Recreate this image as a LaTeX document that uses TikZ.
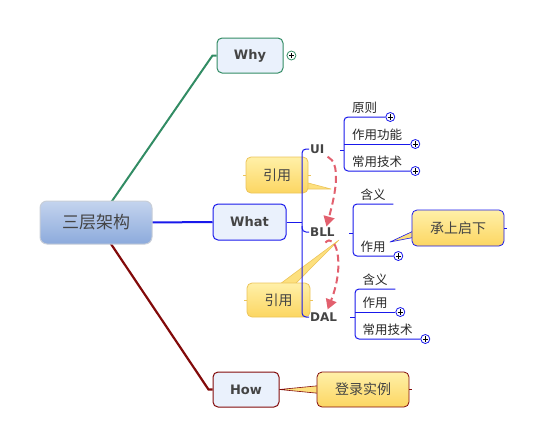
\documentclass[tikz,border=0pt]{standalone}
\usepackage{fontspec}
\newfontfamily\cjk{Noto Sans CJK SC}
\newfontfamily\lat{DejaVu Sans}
\usetikzlibrary{arrows.meta,calc}
\definecolor{bl}{RGB}{25,25,235}
\definecolor{gr}{RGB}{50,140,100}
\definecolor{dr}{RGB}{130,10,10}
\definecolor{tfill}{RGB}{234,241,252}
\definecolor{ytop}{RGB}{255,240,168}
\definecolor{ybot}{RGB}{252,214,98}
\definecolor{yline}{RGB}{236,196,90}
\definecolor{ctop}{RGB}{196,212,238}
\definecolor{cbot}{RGB}{140,170,220}
\definecolor{cline}{RGB}{200,206,216}
\definecolor{txt}{RGB}{68,68,68}
\definecolor{refred}{RGB}{226,96,110}
\pgfdeclarelayer{back}
\pgfsetlayers{back,main}
\tikzset{
 topic/.style={draw=#1, line width=1pt, fill=tfill, rounded corners=5pt, font=\lat\bfseries\fontsize{13}{15}\selectfont, text=txt, minimum width=66, minimum height=35, inner sep=0},
 callout/.style={draw=#1, line width=0.8pt, top color=ytop, bottom color=ybot, rounded corners=5pt, font=\cjk\fontsize{14}{16}\selectfont, text=txt, inner sep=0},
 wedgeshape/.style={draw=#1, line width=0.6pt, fill=ybot!60!ytop, line join=round},
 lay/.style={font=\lat\bfseries\fontsize{12}{14}\selectfont, text=txt, inner sep=1pt, anchor=west},
 item/.style={anchor=south west, inner xsep=8pt, inner ysep=3.2pt, font=\cjk\fontsize{12.5}{14}\selectfont, text=black!85},
 plus/.style={circle, draw=#1, fill=white, line width=0.8pt, inner sep=0, minimum size=9pt, anchor=west,
   path picture={\draw[black,line width=0.8pt] ([xshift=-2.6pt]path picture bounding box.center) -- ([xshift=2.6pt]path picture bounding box.center) ([yshift=-2.6pt]path picture bounding box.center) -- ([yshift=2.6pt]path picture bounding box.center);}},
 brk/.style={draw=bl, line width=1pt, rounded corners=4pt},
 thin/.style={draw=#1, line width=1pt},
 refarrow/.style={draw=refred, line width=2pt, dash pattern=on 7pt off 4pt, -{Triangle[width=11pt,length=10pt]}},
}
\begin{document}
\begin{tikzpicture}[x=1pt,y=-1pt]
\useasboundingbox (0,0) rectangle (544,445);

% topics
\node[topic=gr] (why) at (250,55.5) {Why};
\node[topic=bl, minimum width=73, minimum height=36] (what) at (249.5,222) {What};
\node[topic=dr] (how) at (246,389.5) {How};

% callouts
\node[callout=yline, minimum width=62, minimum height=36] (y1) at (277,175) {引用};
\node[callout=yline, minimum width=63, minimum height=34] (y2) at (278.5,300) {引用};
\node[callout=bl, minimum width=92, minimum height=36] (cs) at (458,228) {承上启下};
\node[callout=dr, minimum width=92, minimum height=35] (dl) at (363,389.5) {登录实例};

% layer labels
\node[lay] (ui) at (309,149) {UI};
\node[lay] (bll) at (309,232) {BLL};
\node[lay] (dal) at (309,317) {DAL};

% sub items
\node[item] (u1) at (344,117) {原则};
\node[item] (u2) at (344,144) {作用功能};
\node[item] (u3) at (344,171) {常用技术};
\node[item, inner xsep=7.5pt] (b1) at (353,204) {含义};
\node[item, inner xsep=7.5pt] (b2) at (353,256) {作用};
\node[item, inner xsep=7.5pt] (d1) at (355,289) {含义};
\node[item, inner xsep=7.5pt] (d2) at (355,312) {作用};
\node[item, inner xsep=7.5pt] (d3) at (355,339) {常用技术};

% callout pointers
\coordinate (t1) at (331,189);
\coordinate (t2) at (339,240);
\coordinate (t3) at (390,242);
\begin{pgfonlayer}{back}
\filldraw[wedgeshape=yline] ($(y1.east)+(-4,7)$) -- (t1) -- ($(y1.east)+(-4,14)$) -- cycle;
\filldraw[wedgeshape=yline] ($(y2.north)+(-2,4)$) -- (t2) -- ($(y2.north)+(14,4)$) -- cycle;
\filldraw[wedgeshape=bl] ($(cs.west)+(4,2)$) -- (t3) -- ($(cs.west)+(4,9)$) -- cycle;
\filldraw[wedgeshape=dr] ($(dl.west)+(4,-4)$) -- (how.east) -- ($(dl.west)+(4,4)$) -- cycle;
\end{pgfonlayer}

% small ticks on callouts
\draw[thin=yline] (y1.west) -- ++(-3,0) (y1.east) -- ++(3,0);
\draw[thin=yline] (y2.west) -- ++(-3,0) (y2.east) -- ++(3,0);
\draw[thin=bl] (cs.east) -- ++(3,0);
\draw[thin=dr] (dl.east) -- ++(3,0);

% main branches
\node[draw=cline, line width=1pt, top color=ctop, bottom color=cbot, rounded corners=7pt, minimum width=112, minimum height=43, inner sep=0, font=\cjk\fontsize{17}{20}\selectfont, text=txt] (c) at (96,222.5) {三层架构};
\begin{pgfonlayer}{back}
\draw[gr, line width=2pt] ($(c.north)+(15,2)$) -- ($(why.west)+(-4,0)$) -- (why.west);
\draw[bl, line width=2pt] ($(c.east)+(-2,0)$) -- (what.west);
\draw[dr, line width=2.2pt] ($(c.south)+(14,-2)$) -- ($(how.west)+(-4,0)$) -- (how.west);
\end{pgfonlayer}

% what spine
\coordinate (sp) at (302,222);
\draw[thin=bl] (what.east) -- (sp);
\draw[brk] (ui.west) -- (ui.west -| sp) -- (dal.west -| sp) -- (dal.west);
\draw[brk] ($(bll.west -| sp)+(0,-6)$) -- (bll.west -| sp) -- (bll.west);

% UI bracket
\draw[brk] (u1.south east) -- (u1.south west) -- (u3.south west) -- (u3.south east);
\draw[thin=bl] (u2.south west) -- (u2.south east);
\draw[thin=bl] ($(ui.east -| u1.south west)+(-4,1)$) -- ($(ui.east -| u1.south west)+(0,1)$);
\node[plus=bl] at (u1.south east) {};
\node[plus=bl] at (u2.south east) {};
\node[plus=bl] at (u3.south east) {};

% BLL bracket
\draw[brk] (b1.south east) -- (b1.south west) -- (b2.south west) -- (b2.south east);
\draw[thin=bl] ($(bll.east -| b1.south west)+(-4,1)$) -- ($(bll.east -| b1.south west)+(0,1)$);
\node[plus=bl] at (b2.south east) {};

% DAL bracket
\draw[brk] (d1.south east) -- (d1.south west) -- (d3.south west) -- (d3.south east);
\draw[thin=bl] (d2.south west) -- (d2.south east);
\draw[thin=bl] ($(dal.east -| d1.south west)+(-5,0)$) -- (dal.east -| d1.south west);
\node[plus=bl] at (d2.south east) {};
\node[plus=bl] at (d3.south east) {};

% why plus
\node[plus=gr] at ($(why.east)+(3,0)$) {};

% reference arrows
\draw[refarrow] ($(ui.south east)+(2,2)$) .. controls (341,163) and (336,192) .. ($(bll.north)+(4,0)$);
\draw[refarrow] ($(bll.south)+(3,5)$) .. controls (335,232) and (346,262) .. ($(dal.north)+(4,-2)$);
\end{tikzpicture}
\end{document}
